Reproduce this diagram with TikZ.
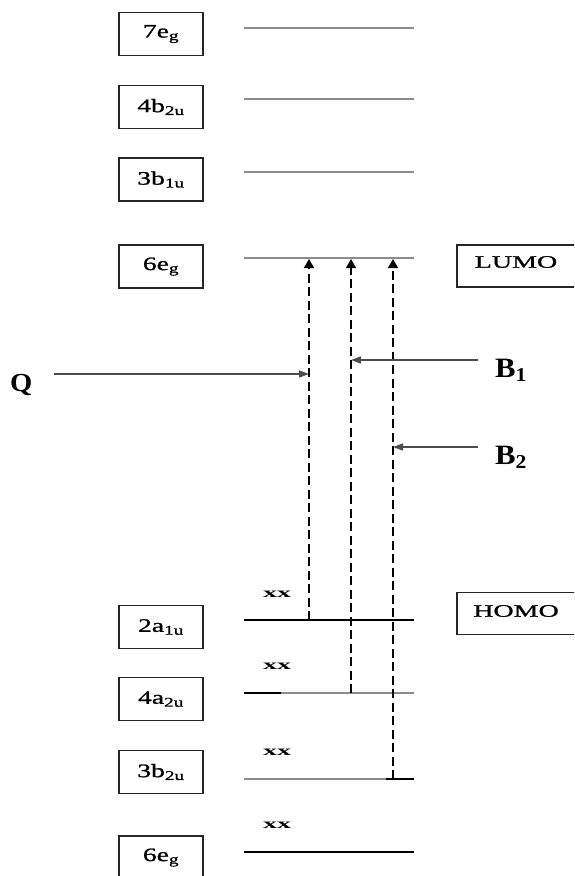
\documentclass[tikz,border=0pt]{standalone}
\usepackage{fontspec}
\setmainfont{Liberation Serif}
\newfontfamily\labfont[FakeStretch=1.45,FakeBold=1.2]{Liberation Serif}
\newfontfamily\tagfont[FakeStretch=1.6,FakeBold=1.2]{Liberation Serif}
\newfontfamily\pairfont[FakeStretch=2.0]{Liberation Serif}
\newfontfamily\bandfont[FakeStretch=1.1]{Liberation Serif}
\usetikzlibrary{arrows.meta}

\begin{document}
\begin{tikzpicture}[x=1pt,y=-1pt,
  orbbox/.style={draw=black!85, line width=1.6pt, minimum width=84pt, minimum height=43pt,
    inner sep=0pt, font=\labfont\fontsize{19}{19}\selectfont},
  tagbox/.style={draw=black!85, line width=1.6pt, minimum width=124pt, minimum height=42pt,
    inner sep=0pt, anchor=west},
  tagtext/.style={font=\tagfont\fontsize{17.5}{17.5}\selectfont},
  upper/.style={draw=black!45, line width=1.4pt},
  lower/.style={draw=black, line width=1.3pt},
  lowergray/.style={draw=black!45, line width=1.3pt},
  trans/.style={draw=black, line width=1.4pt, dash pattern=on 9pt off 4.5pt,
    -{Triangle[length=9pt,width=10pt]}},
  pointer/.style={draw=black!70, line width=1.5pt, -{Triangle[length=10pt,width=7pt]}},
  elec/.style={font=\pairfont\bfseries\fontsize{14}{14}\selectfont},
  band/.style={anchor=base west, inner sep=0pt}
]
\useasboundingbox (0,0) rectangle (574,876);
\clip (0,0) rectangle (574,876);

% orbital labels, left column
\node[orbbox] (o7eg)  at (161,34)    {7e\textsubscript{g}};
\node[orbbox] (o4b2u) at (161,107)   {4b\textsubscript{2u}};
\node[orbbox] (o3b1u) at (161,179.5) {3b\textsubscript{1u}};
\node[orbbox] (o6eg)  at (161,266.5) {6e\textsubscript{g}};
\node[orbbox] (o2a1u) at (161,627)   {2a\textsubscript{1u}};
\node[orbbox] (o4a2u) at (161,699)   {4a\textsubscript{2u}};
\node[orbbox] (o3b2u) at (161,772)   {3b\textsubscript{2u}};
\node[orbbox] (o6egb) at (161,857.5) {6e\textsubscript{g}};

% frontier orbital tags
\node[tagbox] (lumo) at (456,266) {};
\node[tagtext] (lumotxt) at (516,262) {LUMO};
\node[tagbox] (homo) at (456,613.5) {};
\node[tagtext] (homotxt) at (516,611) {HOMO};

% energy levels
\foreach \nm/\yy in {l7eg/28, l4b2u/99, l3b1u/172, l6eg/258, l2a1u/620, l4a2u/693, l3b2u/779, l6egb/852}{
  \coordinate (\nm-l) at (244,\yy);
  \coordinate (\nm-r) at (414,\yy);
}
\coordinate (l4a2u-m) at (281,693);
\coordinate (l3b2u-m) at (386,779);

\draw[upper] (l7eg-l) -- (l7eg-r);
\draw[upper] (l4b2u-l) -- (l4b2u-r);
\draw[upper] (l3b1u-l) -- (l3b1u-r);
\draw[upper] (l6eg-l) -- (l6eg-r);
\draw[lower] (l2a1u-l) -- (l2a1u-r);
\draw[lower] (l4a2u-l) -- (l4a2u-m);
\draw[lowergray] (l4a2u-m) -- (l4a2u-r);
\draw[lowergray] (l3b2u-l) -- (l3b2u-m);
\draw[lower] (l3b2u-m) -- (l3b2u-r);
\draw[lower] (l6egb-l) -- (l6egb-r);

% electron pairs
\node[elec] (e1) at (277,594.5) {xx};
\node[elec] (e2) at (277,666.5) {xx};
\node[elec] (e3) at (277,752.5) {xx};
\node[elec] (e4) at (277,825.5) {xx};

% transitions
\coordinate (qfrom) at (309,620);
\coordinate (qto)   at (309,259);
\coordinate (b1from) at (351,693);
\coordinate (b1to)   at (351,259);
\coordinate (b2from) at (393,779);
\coordinate (b2to)   at (393,259);
\draw[trans] (qfrom) -- (qto);
\draw[trans] (b1from) -- (b1to);
\draw[trans] (b2from) -- (b2to);

% band labels and pointers
\node[band, font=\bandfont\bfseries\fontsize{26}{26}\selectfont] (qlab) at (10,391) {Q};
\node[band, font=\bandfont\bfseries\fontsize{28}{28}\selectfont] (b1lab) at (495,377) {B\textsubscript{1}};
\node[band, font=\bandfont\bfseries\fontsize{28}{28}\selectfont] (b2lab) at (495,464) {B\textsubscript{2}};
\coordinate (qs)  at (54,374);
\coordinate (qe)  at (309,374);
\coordinate (b1s) at (478,360);
\coordinate (b1e) at (351,360);
\coordinate (b2s) at (478,447);
\coordinate (b2e) at (393,447);
\draw[pointer] (qs) -- (qe);
\draw[pointer] (b1s) -- (b1e);
\draw[pointer] (b2s) -- (b2e);
\end{tikzpicture}
\end{document}
